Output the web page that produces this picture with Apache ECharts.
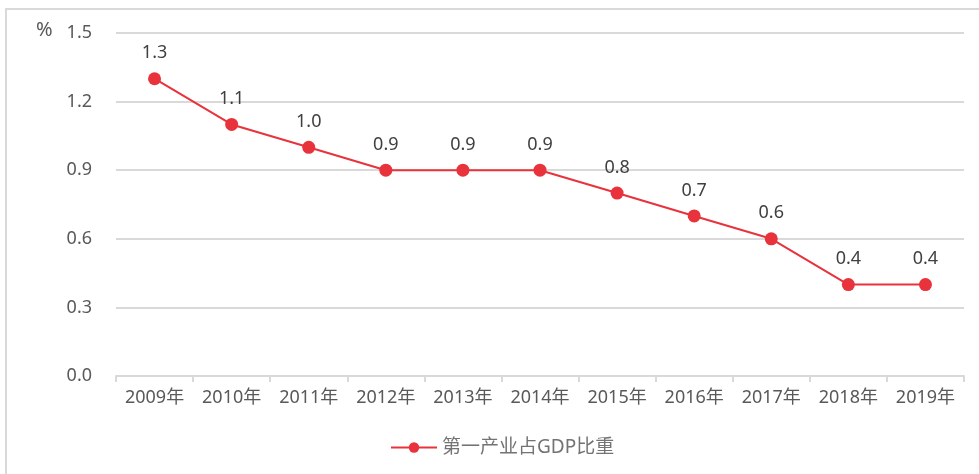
<!DOCTYPE html>
<html>
<head>
<meta charset="utf-8">
<script src="https://cdn.jsdelivr.net/npm/echarts@6/dist/echarts.min.js"></script>
<style>
  html, body { margin: 0; padding: 0; background: #fff; }
  #frame { position: absolute; left: 5px; top: 8px; width: 1000px; height: 500px; border: 2px solid #d9d9d9; box-sizing: border-box; }
  #chart { position: absolute; left: 0; top: 0; width: 979px; height: 474px; }
</style>
</head>
<body>
<div id="frame"></div>
<div id="chart"></div>
<script>
const years = ['2009年', '2010年', '2011年', '2012年', '2013年', '2014年', '2015年', '2016年', '2017年', '2018年', '2019年']
const shareOfGdp = [1.3, 1.1, 1.0, 0.9, 0.9, 0.9, 0.8, 0.7, 0.6, 0.4, 0.4]
const seriesName = '第一产业占GDP比重'

const chart = echarts.init(document.getElementById('chart'))
const font = "'Noto Sans', 'Noto Sans CJK SC', sans-serif"

chart.setOption({
  backgroundColor: 'transparent',
  animation: false,
  textStyle: { fontFamily: font },
  grid: { left: 116, right: 15, top: 33, bottom: 98 },
  graphic: [
    {
      type: 'text',
      left: 36,
      top: 20,
      style: { text: '%', fontSize: 20, fill: '#595959', fontFamily: font },
    },
  ],
  legend: {
    data: [seriesName],
    bottom: 12,
    left: 385,
    itemWidth: 46,
    itemHeight: 13,
    itemGap: 8,
    textStyle: { color: '#737373', fontSize: 19, fontFamily: font },
  },
  xAxis: {
    type: 'category',
    data: years,
    boundaryGap: true,
    axisLine: { lineStyle: { color: '#d9d9d9', width: 2 } },
    axisTick: { show: true, length: 6, lineStyle: { color: '#d9d9d9', width: 2 } },
    axisLabel: { color: '#595959', fontSize: 18, margin: 13, fontFamily: font },
  },
  yAxis: {
    type: 'value',
    min: 0,
    max: 1.5,
    interval: 0.3,
    axisLine: { show: false },
    axisTick: { show: false },
    axisLabel: {
      color: '#595959',
      fontSize: 18,
      margin: 24,
      fontFamily: font,
      formatter: (v) => v.toFixed(1),
    },
    splitLine: { lineStyle: { color: '#d9d9d9', width: 2 } },
  },
  series: [
    {
      name: seriesName,
      type: 'line',
      data: shareOfGdp,
      color: '#e8323c',
      symbol: 'circle',
      symbolSize: 13,
      lineStyle: { width: 2, color: '#e8323c' },
      itemStyle: { color: '#e8323c' },
      label: {
        show: true,
        position: 'top',
        distance: 10,
        color: '#404040',
        fontSize: 18,
        fontFamily: font,
        formatter: (p) => p.value.toFixed(1),
      },
    },
  ],
})
</script>
</body>
</html>
